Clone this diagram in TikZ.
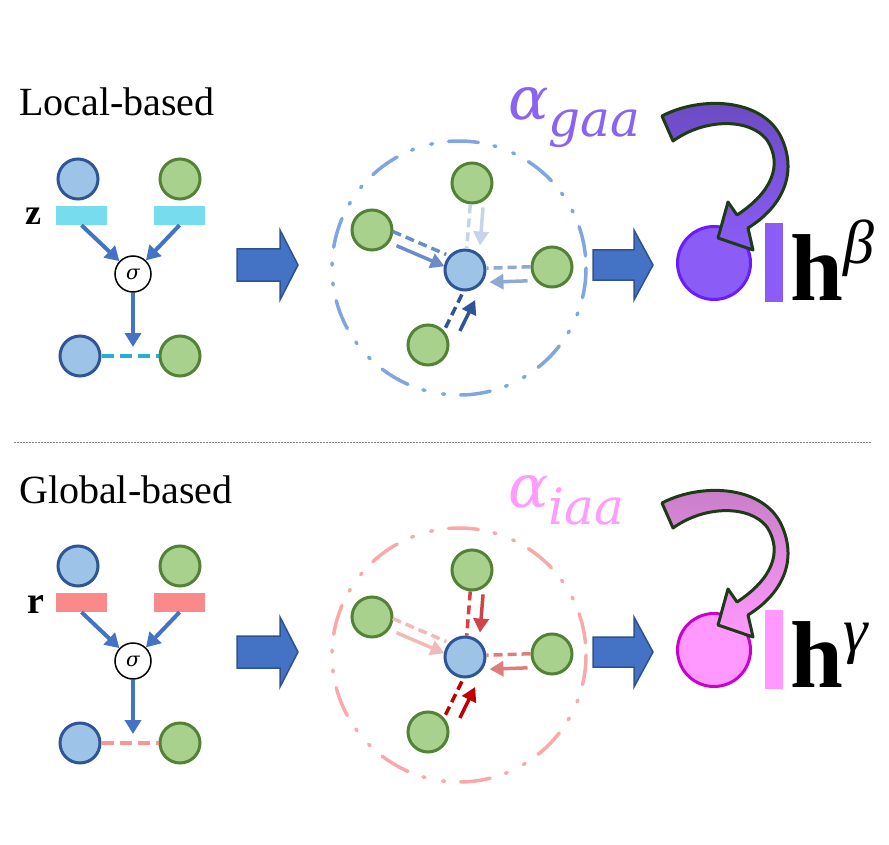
\documentclass[tikz,border=0pt]{standalone}
\usepackage{fontspec}
\setmainfont{Liberation Serif}
\newfontfamily\alfont{DejaVu Serif}
\usetikzlibrary{arrows.meta,calc}

\definecolor{nfblue}{HTML}{9DC3E6}
\definecolor{nbblue}{HTML}{2F5597}
\definecolor{nfgreen}{HTML}{A9D18E}
\definecolor{nbgreen}{HTML}{538135}
\definecolor{zcyan}{HTML}{78DCEF}
\definecolor{lcyan}{HTML}{22B2D0}
\definecolor{rpink}{HTML}{FA8A8A}
\definecolor{lpink}{HTML}{FF9494}
\definecolor{arrblue}{HTML}{4472C4}
\definecolor{arrdark}{HTML}{2F528F}
\definecolor{ringblue}{HTML}{7FA6E0}
\definecolor{ringred}{HTML}{F9A9A9}
\definecolor{eblue1}{HTML}{C5D4EA}
\definecolor{eblue2}{HTML}{6A8CC8}
\definecolor{eblue3}{HTML}{8EA9D3}
\definecolor{eblue4}{HTML}{2F5597}
\definecolor{ered1}{HTML}{CF4444}
\definecolor{ered2}{HTML}{F2B9B9}
\definecolor{ered3}{HTML}{E07C7C}
\definecolor{ered4}{HTML}{C00000}
\definecolor{violet}{HTML}{8B5CF6}
\definecolor{violetdk}{HTML}{6A4BC0}
\definecolor{violetbd}{HTML}{6A1BFF}
\definecolor{agaa}{HTML}{8A63F0}
\definecolor{pinkfill}{HTML}{FF99FF}
\definecolor{pinkdk}{HTML}{C77DC7}
\definecolor{pinkbd}{HTML}{CC00CC}
\definecolor{aiaa}{HTML}{FF9CFF}
\definecolor{twistgreen}{HTML}{1F3B15}

\begin{document}
\begin{tikzpicture}[x=1pt,y=-1pt,
  bnode/.style={circle,draw=nbblue,fill=nfblue,line width=3pt,minimum size=40pt,inner sep=0pt},
  gnode/.style={circle,draw=nbgreen,fill=nfgreen,line width=3pt,minimum size=40pt,inner sep=0pt},
  bar/.style={minimum width=51pt,minimum height=19pt,inner sep=0pt},
  sig/.style={circle,draw=black,line width=1.5pt,fill=white,minimum size=36pt,inner sep=0pt,font=\alfont\itshape\fontsize{20}{22}\selectfont},
  flow/.style={line width=4pt,draw=arrblue,-{Triangle[length=14pt,width=16pt]}},
  link/.style={line width=4pt,dash pattern=on 12pt off 6pt},
  ring/.style={line width=3.5pt,line cap=round,dash pattern=on 30pt off 16pt on 2pt off 18pt on 2pt off 16pt},
  edge/.style={line width=3.5pt,dash pattern=on 9pt off 5pt},
  pull/.style={line width=3.5pt,-{Triangle[length=14pt,width=15pt]},shorten <=3pt,shorten >=3pt},
  bigarrow/.style={fill=arrblue,draw=arrdark,line width=1.5pt},
  outc/.style={circle,line width=3pt,minimum size=73pt,inner sep=0pt},
  twist/.style={draw=twistgreen,line width=3pt,line join=round},
  lbl/.style={anchor=base west,inner sep=0pt,font=\fontsize{40}{42}\selectfont},
  bigtxt/.style={anchor=base west,inner sep=0pt,font=\fontsize{95}{100}\selectfont},
  alftxt/.style={anchor=base west,inner sep=0pt,font=\alfont\itshape\fontsize{60}{64}\selectfont}]
\useasboundingbox (0,0) rectangle (889,845);

% ---------------- local-based ----------------
\node[lbl] (loc) at (19,116) {Local-based};
\node[bnode] (b1) at (78,179) {};
\node[gnode] (g1) at (180,179) {};
\node[bar,fill=zcyan] (zb1) at (81.5,215.5) {};
\node[bar,fill=zcyan] (zb2) at (179.5,215.5) {};
\node[anchor=base,inner sep=0pt,font=\fontsize{36}{38}\selectfont] (zl) at (33,225) {\textbf{z}};
\node[sig] (sg1) at (133,274) {σ};
\node[bnode] (b2) at (80,356) {};
\node[gnode] (g2) at (180,356) {};
\coordinate (m1) at (133,347);
\draw[flow] (zb1.south) -- (sg1);
\draw[flow] (zb2.south) -- (sg1);
\draw[flow] (sg1) -- (m1);
\draw[link,lcyan] (b2) -- (g2);

\draw[bigarrow] (237,249) -- (280,249) -- (280,230) -- (298,265) -- (280,300) -- (280,281) -- (237,281) -- cycle;

\draw[ring,ringblue] (459,268) circle (127);
\node[bnode] (c1) at (465,270) {};
\node[gnode] (t1) at (472,183) {};
\node[gnode] (l1) at (372,230) {};
\node[gnode] (r1) at (552,267) {};
\node[gnode] (d1) at (428,345) {};
\draw[edge,eblue1] (t1) -- (c1);
\draw[pull,eblue1,transform canvas={shift={(13,0)}}] (t1) -- (c1);
\draw[edge,eblue2,transform canvas={shift={(1,-7)}}] (l1) -- (c1);
\draw[pull,eblue2,transform canvas={shift={(2,6)}}] (l1) -- (c1);
\draw[edge,eblue3,transform canvas={shift={(0,-1)}}] (r1) -- (c1);
\draw[pull,eblue3,transform canvas={shift={(0,13)}}] (r1) -- (c1);
\draw[edge,eblue4,transform canvas={shift={(8,2)}}] (d1) -- (c1);
\draw[pull,eblue4,transform canvas={shift={(21,8)}}] (d1) -- (c1);

\draw[bigarrow] (593,250) -- (634,250) -- (634,230) -- (653,265) -- (634,300) -- (634,280) -- (593,280) -- cycle;

\node[outc,draw=violetbd,fill=violet] (o1) at (714,263) {};
\node[fill=violet,minimum width=18pt,minimum height=79pt,inner sep=0pt] (v1) at (774,262.5) {};
\node[bigtxt] (h1) at (790,300) {\textbf{h}\raisebox{36pt}{\fontsize{62}{64}\selectfont\itshape β}};
\node[alftxt,text=agaa] (a1) at (508,120) {α\raisebox{-17pt}{\fontsize{50}{54}\selectfont gaa}};
\draw[twist,top color=violetdk,bottom color=violet]
  (662,116) .. controls (700,96) and (760,98) .. (780,135)
  .. controls (798,170) and (785,205) .. (748,228)
  -- (753,250) -- (718,238) -- (728,202) -- (737,215)
  .. controls (772,192) and (783,165) .. (767,140)
  .. controls (750,118) and (705,118) .. (673,141) -- cycle;

% separator
\draw[gray,line width=1pt,dash pattern=on 1.5pt off 1.5pt] (14,442) -- (872,442);

% ---------------- global-based ----------------
\node[lbl] (glo) at (19,503) {Global-based};
\node[bnode] (b3) at (78,566) {};
\node[gnode] (g3) at (180,566) {};
\node[bar,fill=rpink] (rb1) at (81.5,602.5) {};
\node[bar,fill=rpink] (rb2) at (179.5,602.5) {};
\node[anchor=base,inner sep=0pt,font=\fontsize{38}{40}\selectfont] (rl) at (36,613) {\textbf{r}};
\node[sig] (sg2) at (133,661) {σ};
\node[bnode] (b4) at (80,743) {};
\node[gnode] (g4) at (180,743) {};
\coordinate (m2) at (133,734);
\draw[flow] (rb1.south) -- (sg2);
\draw[flow] (rb2.south) -- (sg2);
\draw[flow] (sg2) -- (m2);
\draw[link,lpink] (b4) -- (g4);

\draw[bigarrow] (237,636) -- (280,636) -- (280,617) -- (298,652) -- (280,687) -- (280,668) -- (237,668) -- cycle;

\draw[ring,ringred] (459,655) circle (127);
\node[bnode] (c2) at (465,657) {};
\node[gnode] (t2) at (472,570) {};
\node[gnode] (l2) at (372,617) {};
\node[gnode] (r2) at (552,654) {};
\node[gnode] (d2) at (428,732) {};
\draw[edge,ered1] (t2) -- (c2);
\draw[pull,ered1,transform canvas={shift={(13,0)}}] (t2) -- (c2);
\draw[edge,ered2,transform canvas={shift={(1,-7)}}] (l2) -- (c2);
\draw[pull,ered2,transform canvas={shift={(2,6)}}] (l2) -- (c2);
\draw[edge,ered3,transform canvas={shift={(0,-1)}}] (r2) -- (c2);
\draw[pull,ered3,transform canvas={shift={(0,13)}}] (r2) -- (c2);
\draw[edge,ered4,transform canvas={shift={(8,2)}}] (d2) -- (c2);
\draw[pull,ered4,transform canvas={shift={(21,8)}}] (d2) -- (c2);

\draw[bigarrow] (593,637) -- (634,637) -- (634,617) -- (653,652) -- (634,687) -- (634,667) -- (593,667) -- cycle;

\node[outc,draw=pinkbd,fill=pinkfill] (o2) at (714,650) {};
\node[fill=pinkfill,minimum width=18pt,minimum height=79pt,inner sep=0pt] (v2) at (774,649.5) {};
\node[bigtxt] (h2) at (790,687) {\textbf{h}\raisebox{36pt}{\fontsize{62}{64}\selectfont\itshape γ}};
\node[alftxt,text=aiaa] (a2) at (508,507) {α\raisebox{-17pt}{\fontsize{50}{54}\selectfont iaa}};
\draw[twist,top color=pinkdk,bottom color=pinkfill]
  (662,503) .. controls (700,483) and (760,485) .. (780,522)
  .. controls (798,557) and (785,592) .. (748,615)
  -- (753,637) -- (718,625) -- (728,589) -- (737,602)
  .. controls (772,579) and (783,552) .. (767,527)
  .. controls (750,505) and (705,505) .. (673,528) -- cycle;
\end{tikzpicture}
\end{document}
